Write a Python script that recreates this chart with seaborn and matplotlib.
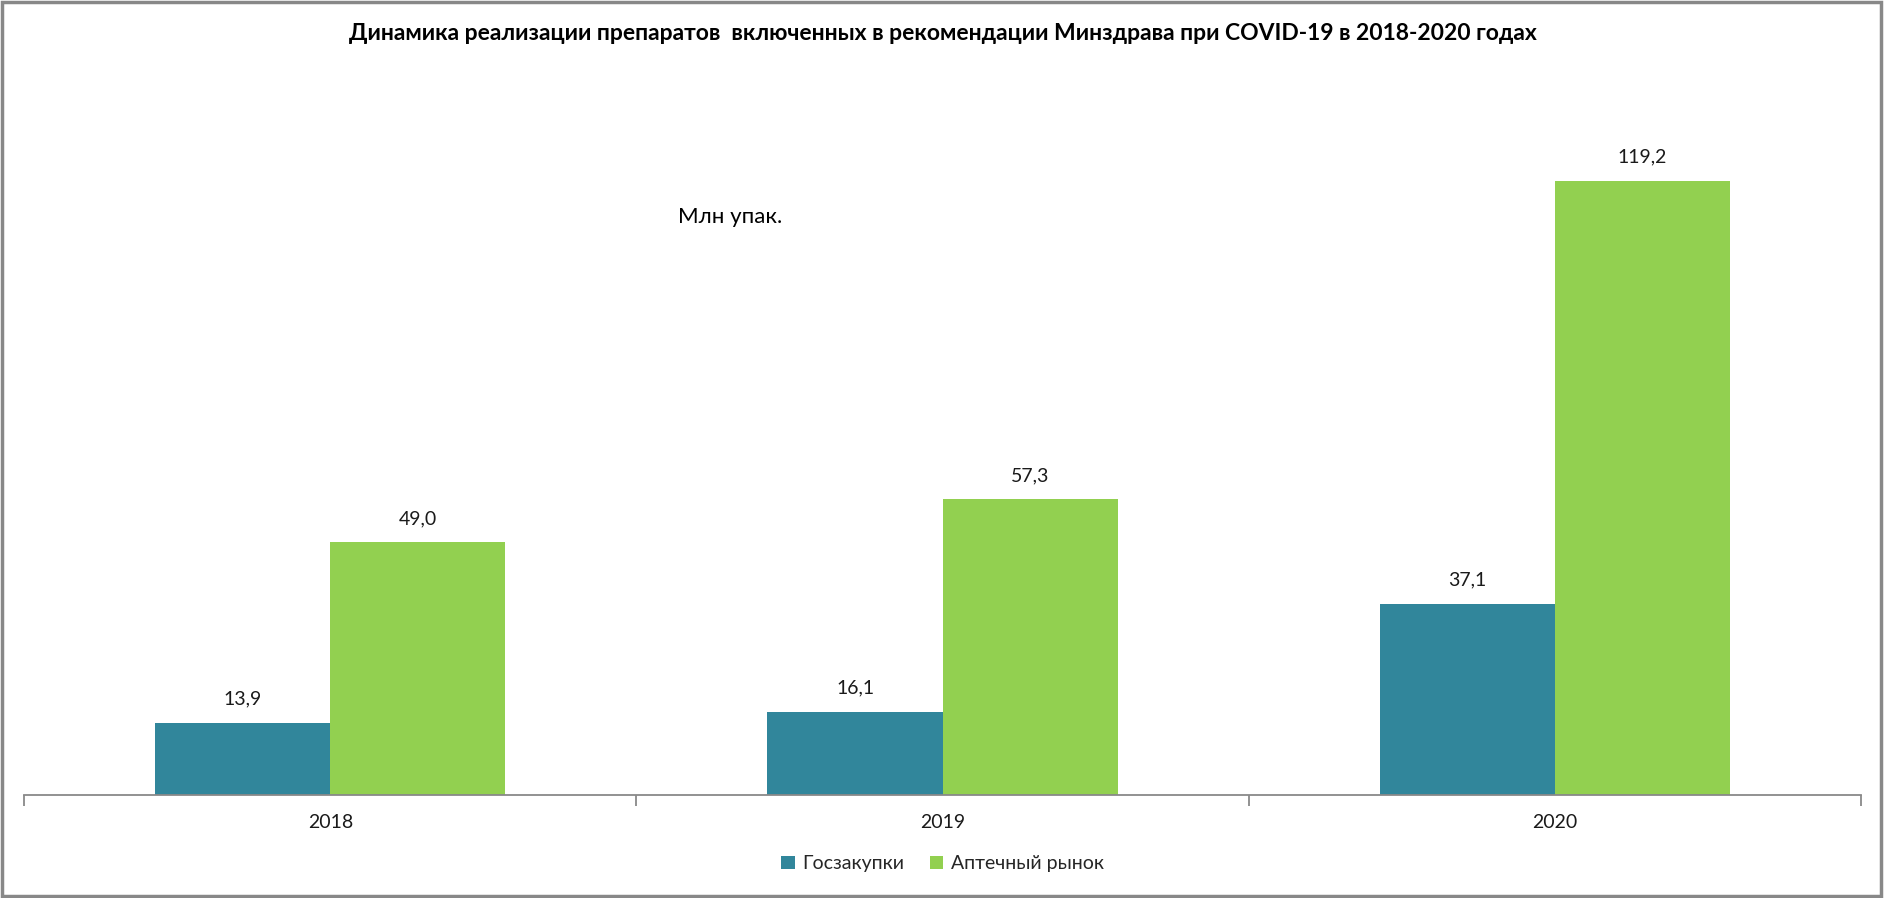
import pandas as pd
import matplotlib.pyplot as plt
import seaborn as sns
from matplotlib.patches import Rectangle, Patch
from matplotlib.ticker import FixedLocator

# data
years = ['2018', '2019', '2020']
series = ['Госзакупки', 'Аптечный рынок']
gos_values = [13.9, 16.1, 37.1]
apt_values = [49.0, 57.3, 119.2]
colors = ['#31869B', '#92D050']

df = pd.DataFrame({
  'Year': years * 2,
  'Series': [series[0]] * 3 + [series[1]] * 3,
  'Value': gos_values + apt_values,
})

sns.set_style('white')
plt.rcParams['font.family'] = ['Lato', 'DejaVu Sans']

fig = plt.figure(figsize=(18.85, 8.98), dpi=100)
ax = fig.add_axes([0.0128, 0.1151, 0.9745, 0.8032])

sns.barplot(data=df, x='Year', y='Value', hue='Series', order=years, hue_order=series,
            palette=colors, width=0.572, gap=0, saturation=1, linewidth=0, ax=ax, legend=False)

# value labels with decimal comma
for container in ax.containers:
  labels = ['{:.1f}'.format(v.get_height()).replace('.', ',') for v in container]
  ax.bar_label(container, labels=labels, padding=11, fontsize=14, color='#1a1a1a')

ax.set_ylim(0, 140)
ax.set_xlim(-0.5, 2.5)
ax.set_xlabel('')
ax.set_ylabel('')
ax.set_yticks([])
for side in ['left', 'right', 'top']:
  ax.spines[side].set_visible(False)
ax.spines['bottom'].set_color('#898989')
ax.spines['bottom'].set_linewidth(1.3)
ax.tick_params(axis='x', which='major', length=0, labelsize=14, pad=14, labelcolor='#1a1a1a')
ax.xaxis.set_minor_locator(FixedLocator([-0.5, 0.5, 1.5, 2.5]))
ax.tick_params(axis='x', which='minor', bottom=True, length=8, width=1.3, color='#898989', direction='out')

fig.text(0.5, 0.9625, 'Динамика реализации препаратов  включенных в рекомендации Минздрава при COVID-19 в 2018-2020 годах',
         ha='center', va='center', fontsize=16.5, fontweight='bold', color='black')
fig.text(0.3875, 0.758, 'Млн упак.', ha='center', va='center', fontsize=16, color='black')

handles = [Patch(facecolor=c, edgecolor='none') for c in colors]
fig.legend(handles, series, loc='center', bbox_to_anchor=(0.5, 0.038), ncol=2, frameon=False,
           fontsize=14, handlelength=0.7, handleheight=0.7, handletextpad=0.4, columnspacing=1.3)

# outer chart border
fig.patches.append(Rectangle((0.001, 0.002), 0.997, 0.996, transform=fig.transFigure,
                             fill=False, edgecolor='#888888', linewidth=2.5))

fig.savefig('out.png', dpi=100)
